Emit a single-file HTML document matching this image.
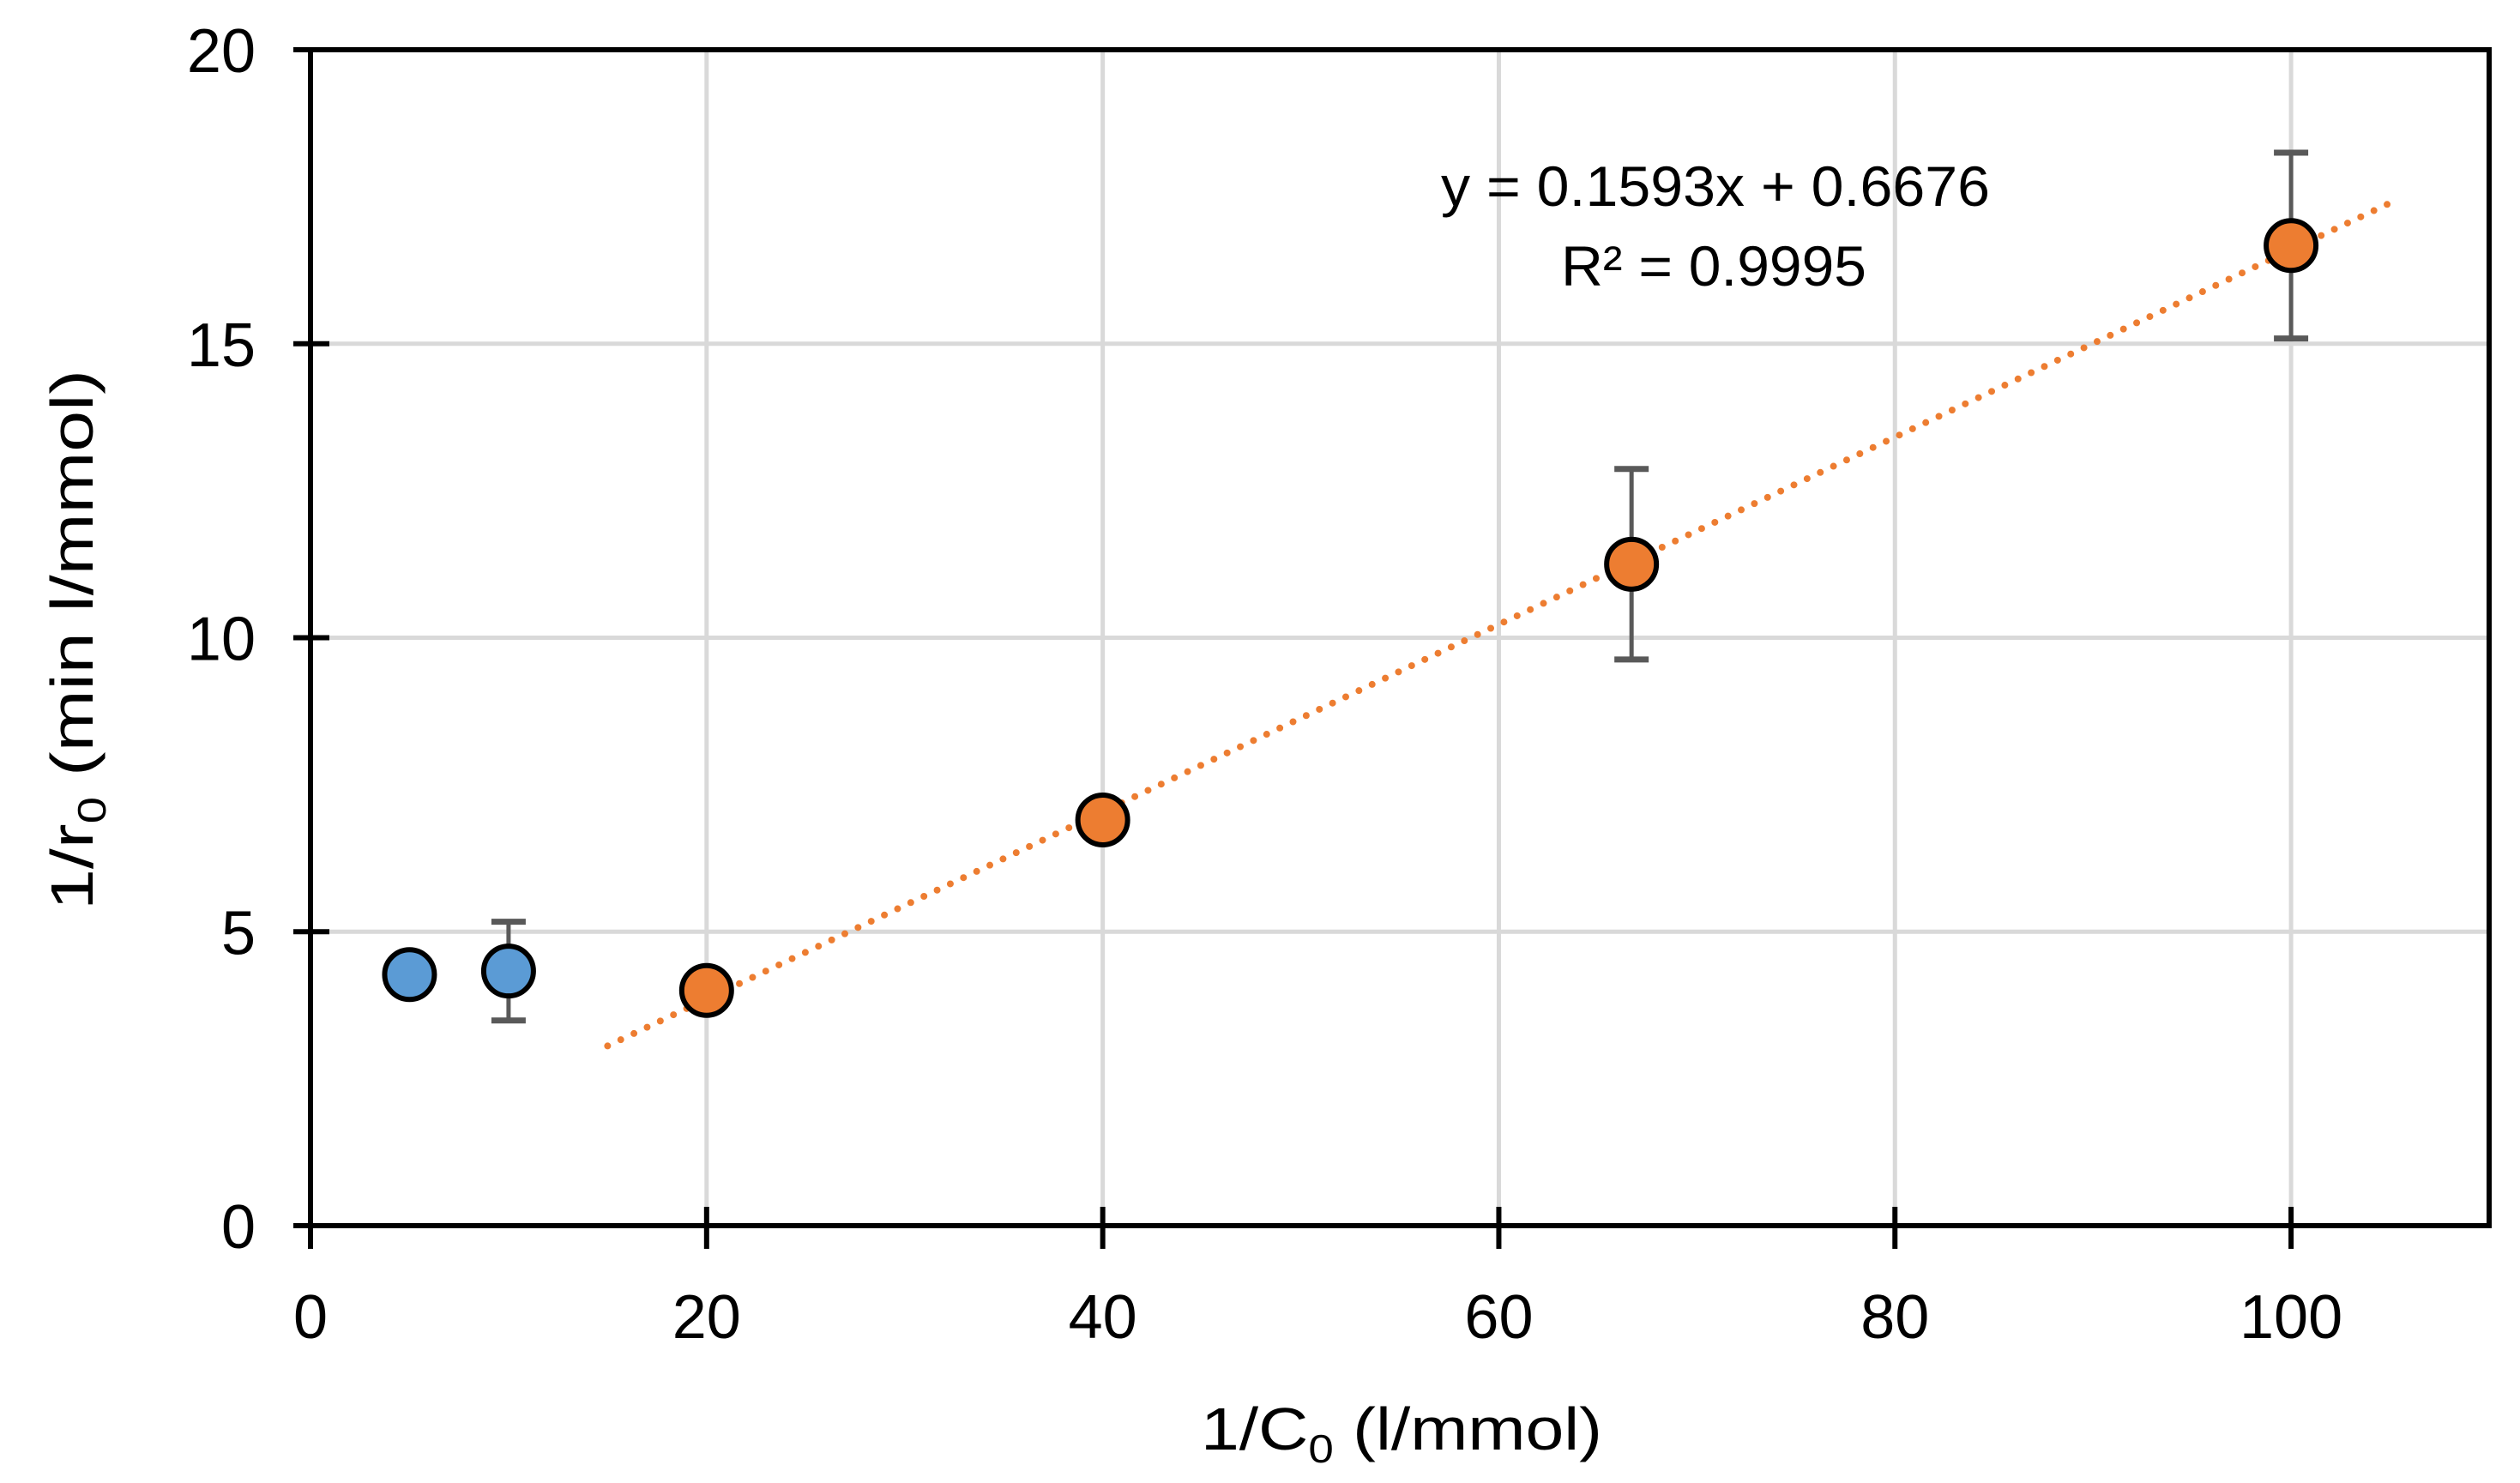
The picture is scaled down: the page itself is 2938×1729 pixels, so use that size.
<!DOCTYPE html>
<html><head><meta charset="utf-8"><style>
html,body{margin:0;padding:0;background:#fff;}
svg{display:block;font-family:"Liberation Sans",sans-serif;}
</style></head><body>
<svg id="chart" width="2938" height="1729" viewBox="0 0 2938 1729" xmlns="http://www.w3.org/2000/svg">
<rect x="0" y="0" width="2938" height="1729" fill="#fff"/>
<g id="grid"></g>
<g id="trend"></g>
<g id="errs"></g>
<g id="axes"></g>
<g id="pts"></g>
<g id="labels"></g>
<text x="1634" y="1690" font-size="70" text-anchor="middle" textLength="468" lengthAdjust="spacingAndGlyphs">1/C<tspan font-size="46" dy="15">0</tspan><tspan dy="-15"> (l/mmol)</tspan></text>
<text transform="translate(108,746) rotate(-90)" font-size="70" text-anchor="middle" textLength="630" lengthAdjust="spacingAndGlyphs">1/r<tspan font-size="46" dy="15">0</tspan><tspan dy="-15"> (min l/mmol)</tspan></text>
<text x="2000" y="240" font-size="66" text-anchor="middle" textLength="640" lengthAdjust="spacingAndGlyphs">y = 0.1593x + 0.6676</text>
<text x="1998" y="333" font-size="66" text-anchor="middle" textLength="356" lengthAdjust="spacingAndGlyphs">R² = 0.9995</text>
</svg>
<script>
const xTicks=[0,20,40,60,80,100];
const yTicks=[0,5,10,15,20];
const blueX=[5,10];
const blueY=[4.27,4.33];
const blueErr=[0,0.84];
const orangeX=[20,40,66.7,100];
const orangeY=[4.0,6.9,11.25,16.67];
const orangeErr=[0,0,1.62,1.58];
const slope=0.1593, intercept=0.6676;
const trendRange=[15,105];
const X0=362,X1=2902,Y0=1429,Y1=58,XMAX=110,YMAX=20;
function sx(v){return X0+(X1-X0)*v/XMAX;}
function sy(v){return Y0-(Y0-Y1)*v/YMAX;}
const NS='http://www.w3.org/2000/svg';
function mk(p,t,a){const e=document.createElementNS(NS,t);for(const k in a)e.setAttribute(k,a[k]);p.appendChild(e);return e;}
const grid=document.getElementById('grid'),axes=document.getElementById('axes'),labels=document.getElementById('labels');
xTicks.forEach(v=>{if(v>0){const l=mk(grid,'line',{x1:sx(v),x2:sx(v),y1:Y1,y2:Y0,stroke:'#d9d9d9','stroke-width':5});

}
const t=mk(axes,'line',{x1:sx(v),x2:sx(v),y1:Y0-22,y2:Y0+27,stroke:'#000','stroke-width':6});


const tx=mk(labels,'text',{x:sx(v),y:1560,'font-size':72,'text-anchor':'middle'});tx.textContent=v;

});
yTicks.forEach(v=>{if(v>0&&v<20){const l=mk(grid,'line',{x1:X0,x2:X1,y1:sy(v),y2:sy(v),stroke:'#d9d9d9','stroke-width':5});

}
const t=mk(axes,'line',{x1:X0-20,x2:X0+22,y1:sy(v),y2:sy(v),stroke:'#000','stroke-width':6});


const tx=mk(labels,'text',{x:298,y:sy(v)+26,'font-size':72,'text-anchor':'end'});tx.textContent=v;

});
const frame=mk(axes,'rect',{x:X0,y:Y1,width:X1-X0,height:Y0-Y1,fill:'none',stroke:'#000','stroke-width':6});


const tl=mk(document.getElementById('trend'),'line',{x1:sx(trendRange[0]),y1:sy(slope*trendRange[0]+intercept),x2:sx(trendRange[1]),y2:sy(slope*trendRange[1]+intercept),stroke:'#ed7d31','stroke-width':8,'stroke-dasharray':'0 17','stroke-linecap':'round'});


const errs=document.getElementById('errs');
function eb(x,y,e){if(!e)return;const g=mk(errs,'g',{stroke:'#595959','stroke-width':5});


mk(g,'line',{x1:sx(x),x2:sx(x),y1:sy(y-e),y2:sy(y+e)});
mk(g,'line',{x1:sx(x)-20,x2:sx(x)+20,y1:sy(y-e),y2:sy(y-e),'stroke-width':7});
mk(g,'line',{x1:sx(x)-20,x2:sx(x)+20,y1:sy(y+e),y2:sy(y+e),'stroke-width':7});}
blueX.forEach((x,i)=>eb(x,blueY[i],blueErr[i]));
orangeX.forEach((x,i)=>eb(x,orangeY[i],orangeErr[i]));
const pts=document.getElementById('pts');
blueX.forEach((x,i)=>{const c=mk(pts,'circle',{cx:sx(x),cy:sy(blueY[i]),r:29,fill:'#5b9bd5',stroke:'#000','stroke-width':6});

});
orangeX.forEach((x,i)=>{const c=mk(pts,'circle',{cx:sx(x),cy:sy(orangeY[i]),r:29,fill:'#ed7d31',stroke:'#000','stroke-width':6});

});
</script>
</body></html>
